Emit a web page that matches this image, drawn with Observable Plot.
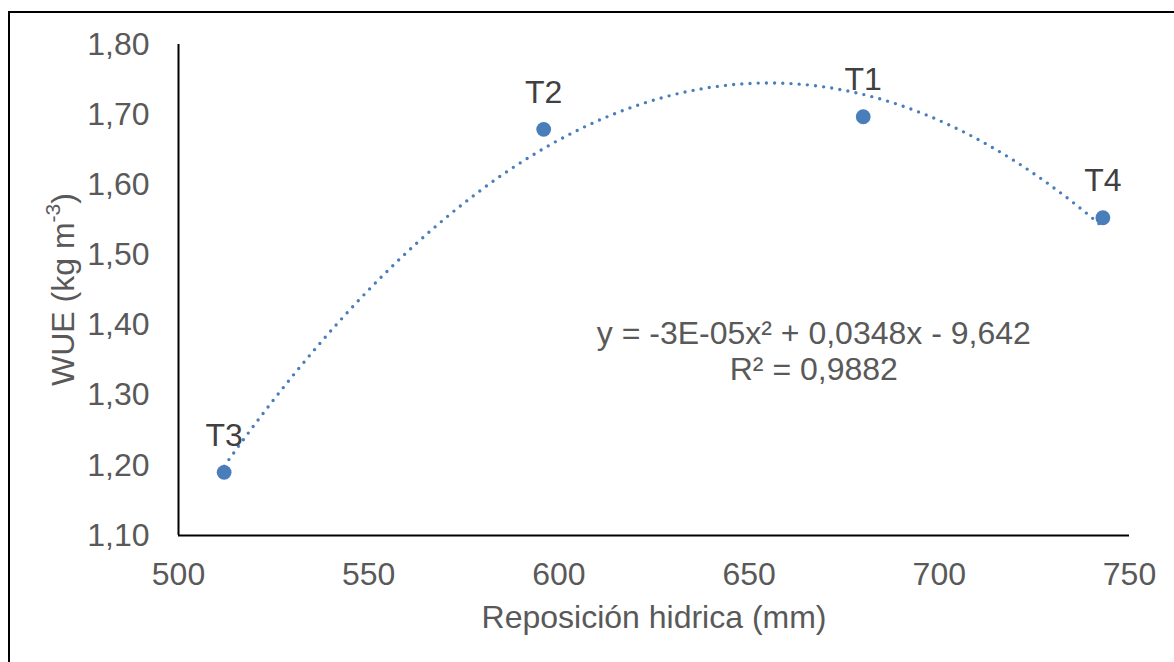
<!DOCTYPE html>
<html>
<head>
<meta charset="utf-8">
<script src="https://cdn.jsdelivr.net/npm/d3@7"></script>
<script src="https://cdn.jsdelivr.net/npm/@observablehq/plot@0.6"></script>
<style>
  html, body { margin: 0; padding: 0; background: #fff; overflow: hidden; }
  #wrap { position: relative; width: 1174px; height: 662px; }
  #frame { position: absolute; left: 8px; top: 11px; width: 2000px; height: 2000px;
           border-top: 2px solid #000; border-left: 2px solid #000; pointer-events: none; }
  #chart { position: absolute; left: 0; top: 0; }
</style>
</head>
<body>
<div id="wrap"><div id="chart"></div><div id="frame"></div></div>
<script>
// Data
const treatments = ["T1", "T2", "T3", "T4"];
const reposicion = [680, 596, 512, 743];
const wue = [1.697, 1.679, 1.190, 1.553];
const xTicks = [500, 550, 600, 650, 700, 750];
const yTicks = [1.10, 1.20, 1.30, 1.40, 1.50, 1.60, 1.70, 1.80];
const equationText = "y = -3E-05x² + 0,0348x - 9,642\nR² = 0,9882";
const xTitle = "Reposición hidrica (mm)";

const data = treatments.map((t, i) => ({label: t, x: reposicion[i], y: wue[i]}));

// Quadratic least-squares trendline (as Excel does) computed from the data
function polyfit2(xs, ys) {
  const mx = d3.mean(xs);
  const u = xs.map(x => x - mx);
  const S = k => d3.sum(u, v => v ** k);
  const T = k => d3.sum(u, (v, i) => ys[i] * v ** k);
  const A = [[S(0), S(1), S(2)], [S(1), S(2), S(3)], [S(2), S(3), S(4)]];
  const b = [T(0), T(1), T(2)];
  for (let i = 0; i < 3; i++) {
    for (let j = i + 1; j < 3; j++) {
      const f = A[j][i] / A[i][i];
      for (let k = i; k < 3; k++) A[j][k] -= f * A[i][k];
      b[j] -= f * b[i];
    }
  }
  const c = [0, 0, 0];
  for (let i = 2; i >= 0; i--) {
    let s = b[i];
    for (let k = i + 1; k < 3; k++) s -= A[i][k] * c[k];
    c[i] = s / A[i][i];
  }
  return x => c[0] + c[1] * (x - mx) + c[2] * (x - mx) ** 2;
}
const fit = polyfit2(reposicion, wue);
const [x0, x1] = d3.extent(reposicion);
const curve = d3.range(0, 201).map(i => {
  const x = x0 + (x1 - x0) * i / 200;
  return {x, y: fit(x)};
});

const blue = "#4a7ebb";
const font = "'Liberation Sans', Arial, sans-serif";

const plot = Plot.plot({
  width: 1174,
  height: 662,
  marginLeft: 178,
  marginRight: 45,
  marginTop: 44,
  marginBottom: 127,
  style: {fontFamily: font, fontSize: "32px", color: "#595959", background: "transparent"},
  x: {domain: [500, 750], ticks: xTicks, tickFormat: d => String(d), tickSize: 0, tickPadding: 27, label: null},
  y: {domain: [1.10, 1.80], ticks: yTicks, tickFormat: d => d.toFixed(2).replace(".", ","), tickSize: 0, tickPadding: 29, label: null},
  marks: [
    Plot.ruleX([500], {stroke: "#000", strokeWidth: 2}),
    Plot.ruleY([1.10], {stroke: "#000", strokeWidth: 2}),
    Plot.line(curve, {x: "x", y: "y", stroke: blue, strokeWidth: 3.4, strokeDasharray: "0,8.2", strokeLinecap: "round"}),
    Plot.dot(data, {x: "x", y: "y", r: 7.4, fill: blue, stroke: "none"}),
    Plot.text(data, {x: "x", y: "y", text: "label", dy: -37, fill: "#404040", fontSize: 32}),
    Plot.text([equationText], {x: 667, y: 1.364, text: d => d, fill: "#595959", fontSize: 32, lineHeight: 1.13, textAnchor: "middle", lineAnchor: "middle"}),
    Plot.text([xTitle], {frameAnchor: "bottom", text: d => d, dy: 82, lineAnchor: "middle", fill: "#595959", fontSize: 32})
  ]
});
document.getElementById("chart").appendChild(plot);

// Y axis title with superscript
const svg = d3.select(plot);
const yt = svg.append("text")
  .attr("transform", `translate(66,${(44 + 535) / 2}) rotate(-90)`)
  .attr("text-anchor", "middle")
  .attr("dominant-baseline", "middle")
  .attr("fill", "#595959")
  .attr("font-family", font)
  .attr("font-size", 32);
yt.append("tspan").text("WUE (kg m");
yt.append("tspan").attr("font-size", 21).attr("dy", -12).text("-3");
yt.append("tspan").attr("dy", 12).text(")");
</script>
</body>
</html>
